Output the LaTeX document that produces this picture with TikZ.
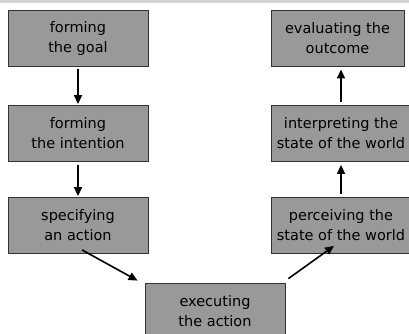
\documentclass[tikz,border=0pt]{standalone}
\usepackage{fontspec}
\setsansfont{DejaVu Sans}
\usetikzlibrary{arrows.meta}

\begin{document}
\begin{tikzpicture}
	[x=1pt,y=-1pt,
	 stage/.style={rectangle, draw=black!80, fill=black!40, line width=.8pt,
	   minimum width=140pt, minimum height=56pt, align=center, inner sep=1pt,
	   font=\sffamily\fontsize{14.5}{20}\selectfont},
	 flow/.style={-{Triangle[length=9pt,width=8pt]}, line width=1.6pt}]
	\useasboundingbox (0,0) rectangle (409,333);
	\clip (0,0) rectangle (409,333);
	\fill[black!17] (0,0) rectangle (409,3);

	\node[stage] (goal) at (78,38)  {forming\\the goal};
	\node[stage] (intent) at (78,133.5) {forming\\the intention};
	\node[stage] (spec) at (78,225.5) {specifying\\an action};
	\node[stage] (exec) at (215,311) {executing\\the action};
	\node[stage] (perc) at (341,225.5) {perceiving the\\state of the world};
	\node[stage] (interp) at (341,133.5) {interpreting the\\state of the world};
	\node[stage, minimum width=133pt] (eval) at (337.5,38) {evaluating the\\outcome};

	\foreach \from/\to in {goal/intent,intent/spec}
		\draw[flow, shorten <=3pt, shorten >=1pt] (\from) -- (\to);
	\foreach \from/\to in {perc/interp,interp/eval}
		\draw[flow, shorten <=3pt, shorten >=3pt] (\from.north) -- (\from.north |- \to.south);
	\draw[flow] ([xshift=4pt,yshift=4pt]spec.south) -- ([xshift=-7pt,yshift=2pt]exec.north west);
	\draw[flow] ([xshift=3pt,yshift=4pt]exec.north east) -- ([xshift=-7pt,yshift=8pt]perc.south);
\end{tikzpicture}
\end{document}
